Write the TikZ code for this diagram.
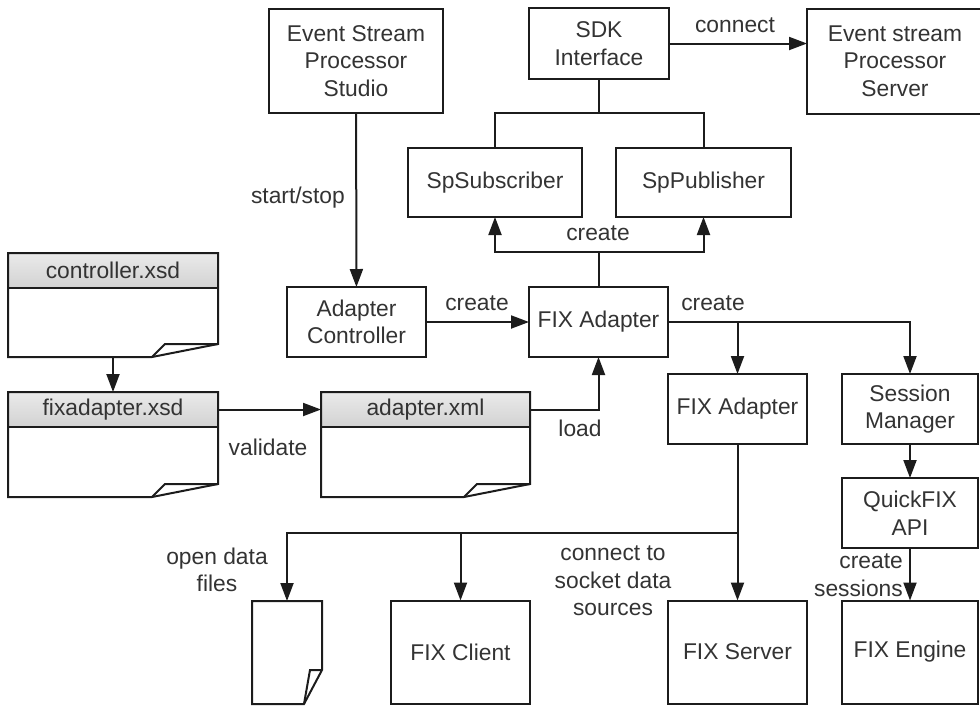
\documentclass[tikz,border=0pt]{standalone}
\usepackage{fontspec}
\setmainfont{Liberation Sans}
\usetikzlibrary{arrows.meta,fit}
\definecolor{linec}{HTML}{1C1C1C}
\definecolor{txt}{HTML}{333333}
\definecolor{hdtop}{HTML}{EAEAEA}
\definecolor{hdbot}{HTML}{D2D2D2}
\newcommand\fs{\fontsize{22.8}{27.5}\selectfont}
\newcommand\mydoc[7]{%
  \fill[top color=hdtop, bottom color=hdbot] (#2,#3) rectangle (#4,#6);
  \draw[docline] (#2,#3) -- (#4,#3) -- (#4,{#5-13}) -- ({#4-66},#5) -- (#2,#5) -- cycle;
  \draw[docline] (#2,#6) -- (#4,#6);
  \draw[docline] (#4,{#5-13}) -- ({#4-53},{#5-13}) -- ({#4-66},#5);
  \node[fit={(#2,#3) (#4,#5)}, inner sep=0pt, outer sep=0pt] (#1) {};
  \node[fit={(#2,#3) (#4,#6)}, inner sep=0pt, outer sep=0pt] (#1h) {};
  \node[lbl] (#1t) at (#1h.center) {#7};
}
\begin{document}
\begin{tikzpicture}[x=1pt, y=-1pt,
  box/.style={draw=linec, line width=2pt, inner sep=0pt, outer sep=0pt, align=center, font=\fs, text=txt},
  docline/.style={draw=linec, line width=2pt, line join=miter},
  conn/.style={draw=linec, line width=2pt},
  arr/.style={conn, -{Triangle[length=18pt,width=13pt]}},
  lbl/.style={font=\fs, text=txt, inner sep=0pt, align=center}]
\useasboundingbox (0,0) rectangle (980,705);

% boxes
\node[box, minimum width=174pt, minimum height=104pt] (studio) at (356,61) {Event Stream\\Processor\\Studio};
\node[box, minimum width=140pt, minimum height=71pt] (sdk) at (599,43.5) {SDK\\Interface};
\node[box, minimum width=176pt, minimum height=105pt] (server) at (895,61) {Event stream\\Processor\\Server};
\node[box, minimum width=174pt, minimum height=69pt] (sub) at (495,182.5) {SpSubscriber};
\node[box, minimum width=175pt, minimum height=69pt] (pub) at (703.5,182.5) {SpPublisher};
\node[box, minimum width=139pt, minimum height=70pt] (actrl) at (356.5,322) {Adapter\\Controller};
\node[box, minimum width=139pt, minimum height=70pt] (fix) at (598.5,322) {FIX Adapter};
\node[box, minimum width=139pt, minimum height=70pt] (fa2) at (737.5,409) {FIX Adapter};
\node[box, minimum width=136pt, minimum height=70pt] (sm) at (910,409) {Session\\Manager};
\node[box, minimum width=136pt, minimum height=70pt] (qf) at (910,513) {QuickFIX\\API};
\node[box, minimum width=136pt, minimum height=103pt] (eng) at (910,652) {FIX Engine};
\node[box, minimum width=139pt, minimum height=103pt] (fsrv) at (737.5,652) {FIX Server};
\node[box, minimum width=139pt, minimum height=103pt] (client) at (460.5,652) {FIX Client};

% documents
\mydoc{ctrl}{8}{253}{218}{357}{288}{controller.xsd}
\mydoc{fixd}{8}{392}{218}{497}{427}{fixadapter.xsd}
\mydoc{axml}{321}{392}{530}{497}{427}{adapter.xml}

% data file
\draw[docline] (252,601) -- (322,601) -- (322,670) -- (304,704) -- (252,704) -- cycle;
\draw[docline] (322,670) -- (310,670) -- (304,704);
\node[fit={(252,601) (322,704)}, inner sep=0pt, outer sep=0pt] (data) {};

% connectors
\draw[arr] (studio) -- (actrl);
\draw[arr] (actrl) -- (fix);
\coordinate (cj) at (598.5,252);
\draw[conn] (fix.north) -- (cj);
\draw[arr] (cj) -| (sub.south);
\draw[arr] (cj) -| (pub.south);
\coordinate (sj) at (599,113);
\draw[conn] (sdk.south) -- (sj);
\draw[conn] (sj) -| (sub.north);
\draw[conn] (sj) -| (pub.north);
\draw[arr] (sdk.east) -- (sdk.east -| server.west);
\draw[arr] (ctrl.south) -- (fixd.north);
\draw[arr] (fixdh.east) -- (axmlh.west);
\draw[arr] (axmlh.east) -| (fix.south);
\draw[arr] (fix.east) -| (sm.north);
\draw[arr] (fix.east -| fa2.north) -- (fa2.north);
\coordinate (bj) at (737.5,533);
\draw[arr] (fa2.south) -- (fsrv.north);
\draw[arr] (bj) -| (data.north);
\draw[arr] (bj -| client.north) -- (client.north);
\draw[arr] (sm) -- (qf);
\draw[arr] (qf) -- (eng);

% labels
\node[lbl] (lconnect) at (735,25) {connect};
\node[lbl] (lcreate1) at (598,233) {create};
\node[lbl, anchor=east] (lstart) at (345,198) {start/stop};
\node[lbl] (lcreate2) at (477,303) {create};
\node[lbl] (lcreate3) at (713,303) {create};
\node[lbl] (lvalidate) at (268,447) {validate};
\node[lbl] (lload) at (580,428) {load};
\node[lbl] (lopen) at (217,570) {open data\\files};
\node[lbl] (lsock) at (613,581) {connect to\\socket data\\sources};
\node[lbl, anchor=east, align=right] (lsess) at (903,575) {create\\sessions};
\end{tikzpicture}
\end{document}
